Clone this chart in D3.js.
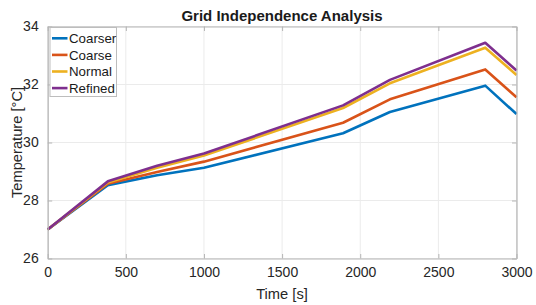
<!DOCTYPE html>
<html>
<head>
<meta charset="utf-8">
<script src="https://cdn.jsdelivr.net/npm/d3@7"></script>
<style>
  html, body { margin: 0; padding: 0; background: #fff; }
  svg text { font-family: 'Liberation Sans', Arial, Helvetica, sans-serif; }
</style>
</head>
<body>
<svg id="chart" width="536" height="305"></svg>
<script>
(function(){
'use strict';

// time points [s]
var times = [0, 385, 700, 1000, 1890, 2190, 2800, 3000];

// temperatures [°C] per mesh
var coarser = [27.0, 28.53, 28.87, 29.13, 30.32, 31.05, 31.96, 30.98];
var coarse  = [27.0, 28.58, 28.98, 29.34, 30.68, 31.49, 32.52, 31.56];
var normal  = [27.0, 28.62, 29.13, 29.55, 31.19, 32.04, 33.27, 32.33];
var refined = [27.0, 28.66, 29.20, 29.62, 31.28, 32.16, 33.44, 32.48];

var seriesNames = ['Coarser', 'Coarse', 'Normal', 'Refined'];
var seriesColors = ['#0072BD', '#D95319', '#EDB120', '#7E2F8E'];

var xTicks = [0, 500, 1000, 1500, 2000, 2500, 3000];
var yTicks = [26, 28, 30, 32, 34];

var series = [coarser, coarse, normal, refined].map(function(vals, i){
    return {
        name: seriesNames[i],
        color: seriesColors[i],
        points: vals.map(function(v, j){ return {t: times[j], v: v}; })
    };
});

var box = {left: 47.7, right: 516.5, top: 26.5, bottom: 258.5};

var svg = d3.select('#chart');

var x = d3.scaleLinear().domain([0, 3000]).range([box.left, box.right]);
var y = d3.scaleLinear().domain([26, 34]).range([box.bottom, box.top]);

var h = box.bottom - box.top;

// grid
var grid = svg.append('g');
grid.selectAll('line.gx').data(xTicks).enter().append('line')
    .attr('x1', function(d){ return x(d); }).attr('x2', function(d){ return x(d); })
    .attr('y1', box.top).attr('y2', box.bottom)
    .attr('stroke', '#ebebeb').attr('stroke-width', 1);
grid.selectAll('line.gy').data(yTicks).enter().append('line')
    .attr('y1', function(d){ return y(d); }).attr('y2', function(d){ return y(d); })
    .attr('x1', box.left).attr('x2', box.right)
    .attr('stroke', '#ebebeb').attr('stroke-width', 1);

// lines
var line = d3.line()
    .x(function(d){ return x(d.t); })
    .y(function(d){ return y(d.v); });

svg.append('g').selectAll('path').data(series).enter().append('path')
    .attr('d', function(d){ return line(d.points); })
    .attr('fill', 'none')
    .attr('stroke', function(d){ return d.color; })
    .attr('stroke-width', 2.6)
    .attr('stroke-linejoin', 'round');

// axes (ticks inward, box on)
var axisColor = '#b5b5b5';
var tickLen = 4.5;
var fmt = d3.format('d');

var xAxis = svg.append('g')
    .attr('transform', 'translate(0,' + box.bottom + ')')
    .call(d3.axisBottom(x).tickValues(xTicks).tickFormat(fmt).tickSizeInner(-tickLen).tickSizeOuter(0).tickPadding(9));
var yAxis = svg.append('g')
    .attr('transform', 'translate(' + box.left + ',0)')
    .call(d3.axisLeft(y).tickValues(yTicks).tickFormat(fmt).tickSizeInner(-tickLen).tickSizeOuter(0).tickPadding(9));
var xTop = svg.append('g')
    .attr('transform', 'translate(0,' + box.top + ')')
    .call(d3.axisTop(x).tickValues(xTicks).tickSizeInner(-tickLen).tickSizeOuter(0).tickFormat(''));
var yRight = svg.append('g')
    .attr('transform', 'translate(' + box.right + ',0)')
    .call(d3.axisRight(y).tickValues(yTicks).tickSizeInner(-tickLen).tickSizeOuter(0).tickFormat(''));

[xAxis, yAxis, xTop, yRight].forEach(function(a){
    a.select('.domain').attr('stroke', axisColor).attr('stroke-width', 1.2);
    a.selectAll('.tick line').attr('stroke', axisColor);
    a.selectAll('.tick text')
        .attr('fill', '#262626')
        .attr('font-size', '14px')
        .attr('font-family', "'Liberation Sans', Arial, sans-serif");
});

// titles
svg.append('text')
    .attr('x', 282).attr('y', 21)
    .attr('text-anchor', 'middle')
    .attr('font-size', '15px').attr('font-weight', 'bold')
    .attr('fill', '#1a1a1a')
    .text('Grid Independence Analysis');

svg.append('text')
    .attr('x', 282).attr('y', 298.5)
    .attr('text-anchor', 'middle')
    .attr('font-size', '14.7px')
    .attr('fill', '#262626')
    .text('Time [s]');

svg.append('text')
    .attr('transform', 'translate(21.5,' + (box.top + h / 2) + ') rotate(-90)')
    .attr('text-anchor', 'middle')
    .attr('font-size', '14.7px')
    .attr('fill', '#262626')
    .text('Temperature [°C]');

// legend
var legend = svg.append('g').attr('transform', 'translate(50,27.5)');
legend.append('rect')
    .attr('width', 66.5).attr('height', 69)
    .attr('fill', '#fff')
    .attr('stroke', '#bdbdbd').attr('stroke-width', 1);

var items = legend.selectAll('g.item').data(series).enter().append('g')
    .attr('transform', function(d, i){ return 'translate(0,' + (10.8 + i * 16.6) + ')'; });
items.append('line')
    .attr('x1', 2).attr('x2', 17.5)
    .attr('stroke', function(d){ return d.color; })
    .attr('stroke-width', 2.6);
items.append('text')
    .attr('x', 19).attr('y', 4.8)
    .attr('font-size', '13.3px')
    .attr('fill', '#1a1a1a')
    .text(function(d){ return d.name; });

})();
</script>
</body>
</html>
